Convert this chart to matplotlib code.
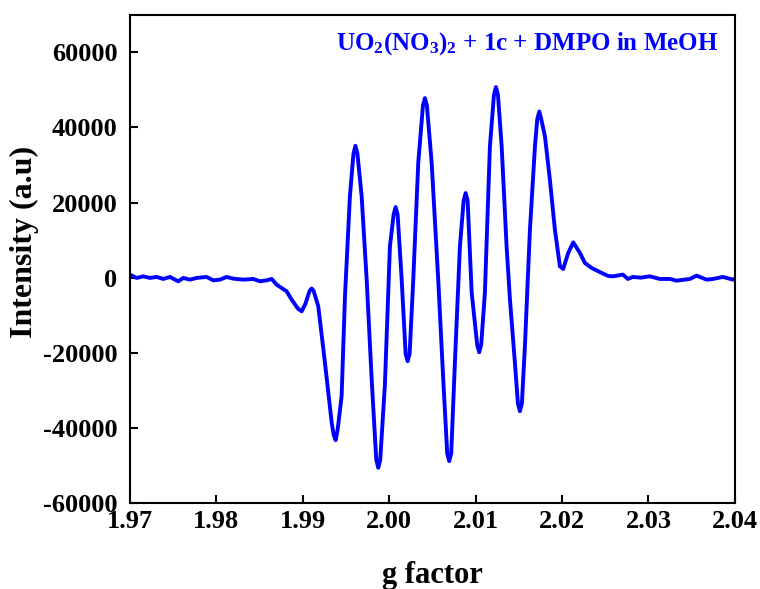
import numpy as np
import matplotlib
matplotlib.use("Agg")
import matplotlib.pyplot as plt

plt.rcParams['font.family'] = ['Liberation Serif', 'DejaVu Serif']
plt.rcParams['font.weight'] = 'bold'
plt.rcParams['mathtext.fontset'] = 'custom'
plt.rcParams['mathtext.rm'] = 'Liberation Serif:bold'
plt.rcParams['mathtext.it'] = 'Liberation Serif:bold'
plt.rcParams['mathtext.bf'] = 'Liberation Serif:bold'

# EPR spectrum
g_factor = [
    1.97000, 1.97078, 1.97154, 1.97231, 1.97309, 1.97385, 1.97463, 1.97559,
    1.97617, 1.97694, 1.97772, 1.97887, 1.97964, 1.98041, 1.98119, 1.98195,
    1.98311, 1.98427, 1.98504, 1.98582, 1.98640, 1.98697, 1.98813, 1.98871,
    1.98945, 1.98987, 1.99030, 1.99079, 1.99102, 1.99125, 1.99179, 1.99256,
    1.99334, 1.99357, 1.99380, 1.99403, 1.99449, 1.99488, 1.99545, 1.99586,
    1.99609, 1.99632, 1.99681, 1.99739, 1.99797, 1.99850, 1.99873, 1.99896,
    1.99950, 2.00008, 2.00051, 2.00074, 2.00097, 2.00144, 2.00190, 2.00213,
    2.00236, 2.00278, 2.00336, 2.00390, 2.00413, 2.00436, 2.00491, 2.00567,
    2.00625, 2.00671, 2.00694, 2.00717, 2.00760, 2.00818, 2.00861, 2.00884,
    2.00907, 2.00954, 2.01018, 2.01041, 2.01064, 2.01107, 2.01165, 2.01212,
    2.01235, 2.01258, 2.01301, 2.01358, 2.01397, 2.01454, 2.01489, 2.01512,
    2.01535, 2.01570, 2.01628, 2.01686, 2.01713, 2.01736, 2.01759, 2.01802,
    2.01859, 2.01917, 2.01975, 2.02013, 2.02071, 2.02129, 2.02207, 2.02264,
    2.02342, 2.02458, 2.02534, 2.02588, 2.02704, 2.02762, 2.02820, 2.02912,
    2.03016, 2.03132, 2.03248, 2.03325, 2.03479, 2.03557, 2.03672, 2.03745,
    2.03861, 2.03977, 2.04000,
]
intensity = [
    800, -80, 350, -80, 190, -350, 190, -980,
    -80, -530, -80, 190, -720, -530, 190, -270,
    -530, -350, -980, -720, -350, -1860, -3640, -5850,
    -8300, -8960, -7000, -3500, -2900, -3500, -7630, -22600,
    -38570, -41800, -43280, -40500, -31570, -4970, 21630, 33000,
    35110, 33000, 21630, -530, -27130, -48500, -50620, -48500,
    -28460, 8330, 16800, 18810, 16800, -530, -20300, -22260,
    -20300, -530, 30590, 45800, 47800, 45800, 30590, -530,
    -27130, -46800, -48860, -46800, -22610, 8330, 20500, 22530,
    20500, -3990, -17900, -19870, -17900, -3990, 34930, 48700,
    50730, 48700, 34930, 8330, -5850, -22610, -33500, -35560,
    -33500, -18270, 12770, 34930, 42200, 44240, 42200, 37590,
    26070, 12770, 3010, 2310, 6570, 9390, 6570, 3910,
    2580, 1250, 450, 350, 800, -350, 190, 0,
    350, -350, -350, -800, -350, 530, -530, -350,
    190, -530, -270,
]

x_ticks = [1.97, 1.98, 1.99, 2.00, 2.01, 2.02, 2.03, 2.04]
y_ticks = [-60000, -40000, -20000, 0, 20000, 40000, 60000]

fig = plt.figure(figsize=(7.6, 5.89), dpi=100)
ax = fig.add_axes([0.171, 0.146, 0.796, 0.829])

ax.plot(g_factor, intensity, color='#0000ff', lw=2.8, solid_joinstyle='round')

ax.set_xlim(1.97, 2.04)
ax.set_ylim(-60000, 70000)
ax.set_xticks(x_ticks)
ax.set_xticklabels(['%.2f' % v for v in x_ticks])
ax.set_yticks(y_ticks)
ax.set_yticklabels([str(v) for v in y_ticks])
ax.tick_params(direction='in', length=6, width=1.5, labelsize=19)
ax.tick_params(axis='x', pad=5)
ax.tick_params(axis='y', pad=9)
for s in ax.spines.values():
    s.set_linewidth(1.5)

ax.set_xlabel('g factor', fontsize=22, fontweight='bold')
ax.xaxis.set_label_coords(0.5, -0.118)
ax.set_ylabel('Intensity (a.u)', fontsize=23, fontweight='bold')
ax.yaxis.set_label_coords(-0.15, 0.535)

ax.text(0.972, 0.968, r'UO$_2$(NO$_3$)$_2$ + 1c + DMPO in MeOH',
        transform=ax.transAxes, ha='right', va='top',
        color='#0000ff', fontsize=18, fontweight='bold')

fig.savefig('out.png', dpi=100)
